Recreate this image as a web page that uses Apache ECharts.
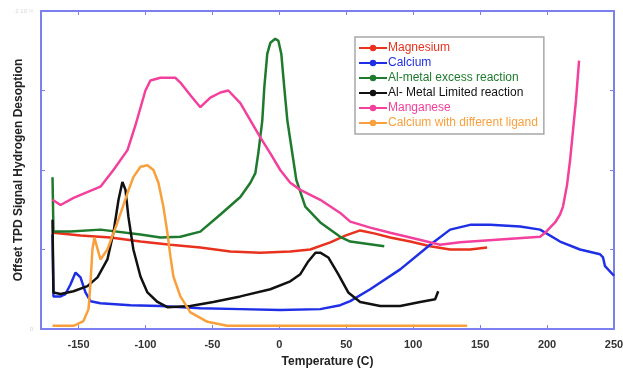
<!DOCTYPE html>
<html>
<head>
<meta charset="utf-8">
<script src="https://cdn.jsdelivr.net/npm/echarts@6/dist/echarts.min.js"></script>
<style>
  html, body { margin: 0; padding: 0; background: #fff; }
  #chart { width: 623px; height: 370px; }
</style>
</head>
<body>
<div id="chart"></div>
<script>
// temperature (C) vs offset signal
const magnesium = [
  [-168.7, 1.21], [-148.5, 1.175], [-126.1, 1.15], [-103.7, 1.1], [-81.3, 1.06],
  [-59.0, 1.025], [-36.6, 0.975], [-14.2, 0.96], [8.2, 0.975], [23.1, 1.0],
  [38.1, 1.09], [49.3, 1.175], [60.4, 1.24], [71.6, 1.2], [82.8, 1.15],
  [97.8, 1.1], [112.7, 1.04], [127.6, 1.0], [142.5, 1.0], [155.2, 1.025]
];
const calcium = [
  [-169.4, 1.19], [-168.7, 0.41], [-163.4, 0.41], [-159.7, 0.44], [-156.0, 0.56],
  [-152.2, 0.71], [-148.5, 0.65], [-144.8, 0.46], [-141.0, 0.35], [-133.6, 0.325],
  [-111.2, 0.3], [-88.8, 0.29], [-59.0, 0.26], [-29.1, 0.25], [0.7, 0.24],
  [30.6, 0.25], [45.5, 0.3], [53.0, 0.35], [67.9, 0.5], [90.3, 0.75],
  [112.7, 1.06], [127.6, 1.25], [142.5, 1.31], [157.5, 1.31], [179.9, 1.29],
  [194.8, 1.25], [209.7, 1.1], [224.6, 1.0], [239.6, 0.94], [241.8, 0.9],
  [243.3, 0.79], [250, 0.67]
];
const alExcess = [
  [-169.4, 1.91], [-168.7, 1.225], [-156.0, 1.225], [-133.6, 1.25], [-103.7, 1.19],
  [-88.8, 1.15], [-73.9, 1.16], [-59.0, 1.225], [-44.0, 1.44], [-29.1, 1.66],
  [-21.6, 1.84], [-17.9, 1.96], [-15.7, 2.21], [-12.7, 2.625], [-11.2, 3.04],
  [-9.0, 3.46], [-6.7, 3.6], [-3.0, 3.65], [-0.7, 3.625], [1.5, 3.46],
  [3.7, 3.04], [6.0, 2.625], [9.7, 2.21], [12.7, 1.875], [19.4, 1.54],
  [30.6, 1.34], [45.5, 1.16], [53.0, 1.1], [78.4, 1.04]
];
const alLimited = [
  [-169.4, 1.375], [-168.7, 0.46], [-163.4, 0.44], [-153.7, 0.475], [-143.3, 0.54],
  [-135.8, 0.65], [-128.4, 0.875], [-123.9, 1.21], [-120.1, 1.625], [-117.2, 1.85],
  [-114.9, 1.75], [-112.7, 1.41], [-109.0, 1.0], [-103.7, 0.66], [-98.5, 0.46],
  [-91.0, 0.34], [-83.6, 0.275], [-66.4, 0.29], [-49.3, 0.34], [-29.1, 0.41],
  [-6.7, 0.5], [8.2, 0.6], [15.7, 0.69], [21.6, 0.85], [27.0, 0.96],
  [30.6, 0.96], [36.6, 0.9], [44.0, 0.69], [51.5, 0.46], [60.4, 0.34],
  [75.4, 0.29], [90.3, 0.29], [105.2, 0.34], [116.4, 0.375], [118.7, 0.475]
];
const manganese = [
  [-169.4, 1.625], [-168.7, 1.65], [-163.4, 1.56], [-153.7, 1.65], [-133.6, 1.79],
  [-123.9, 2.0], [-113.4, 2.25], [-107.5, 2.56], [-100.0, 3.0], [-96.3, 3.125],
  [-88.8, 3.16], [-77.6, 3.16], [-73.9, 3.1], [-66.4, 2.94], [-59.0, 2.79],
  [-51.5, 2.91], [-44.0, 2.975], [-38.1, 3.0], [-29.1, 2.84], [-21.6, 2.625],
  [-14.2, 2.41], [-6.7, 2.21], [0.7, 2.0], [8.2, 1.84], [15.7, 1.75],
  [30.6, 1.625], [45.5, 1.46], [53.0, 1.35], [67.9, 1.275], [82.8, 1.21],
  [97.8, 1.15], [120.1, 1.06], [135.1, 1.09], [164.9, 1.125], [194.8, 1.16],
  [198.5, 1.21], [202.2, 1.275], [206.0, 1.34], [209.7, 1.44], [211.9, 1.54],
  [214.9, 1.81], [217.2, 2.125], [219.4, 2.5], [221.6, 2.875], [223.9, 3.375]
];
const calciumLigand = [
  [-169.4, 0.04], [-153.7, 0.04], [-146.3, 0.1], [-142.5, 0.25], [-141.0, 0.59],
  [-139.6, 1.0], [-138.1, 1.15], [-133.6, 0.875], [-128.4, 1.0], [-120.9, 1.34],
  [-113.4, 1.71], [-109.0, 1.91], [-103.7, 2.04], [-98.5, 2.06], [-94.0, 2.0],
  [-90.3, 1.84], [-86.6, 1.54], [-83.6, 1.21], [-81.3, 0.91], [-79.1, 0.66],
  [-73.9, 0.41], [-66.4, 0.21], [-53.7, 0.09], [-38.8, 0.04], [140.3, 0.04]
];

const xTicks = [-150, -100, -50, 0, 50, 100, 150, 200, 250];
const yTicks = [0, 1, 2, 3, 4];
const yTickLabels = ['0', '', '', '', '2 10⁻¹¹'];

const seriesList = [
  { name: 'Magnesium', data: magnesium, color: '#e8321e' },
  { name: 'Calcium', data: calcium, color: '#1f2fe6' },
  { name: 'Al-metal excess reaction', data: alExcess, color: '#1e7a2c' },
  { name: 'Al- Metal Limited reaction', data: alLimited, color: '#111111' },
  { name: 'Manganese', data: manganese, color: '#f2409c' },
  { name: 'Calcium with different ligand', data: calciumLigand, color: '#f9a03c' }
];

const frameColor = '#7c80ee';
const chart = echarts.init(document.getElementById('chart'));

const axisCommon = {
  type: 'value',
  axisLine: { show: true, onZero: false, lineStyle: { color: frameColor, width: 2 } },
  axisTick: { show: true, inside: true, length: 4, lineStyle: { color: frameColor, width: 1 } },
  splitLine: { show: false }
};

chart.setOption({
  animation: false,
  textStyle: { fontFamily: 'Liberation Sans, Arial, sans-serif' },
  grid: { left: 41, top: 11, right: 9, bottom: 41, outerBoundsMode: 'none' },
  legend: {
    orient: 'vertical',
    left: 355,
    top: 37,
    padding: [5, 6, 5, 3],
    itemGap: 3,
    itemWidth: 28,
    itemHeight: 8,
    borderColor: '#a8a8a8',
    borderWidth: 1.5,
    borderRadius: 0,
    backgroundColor: '#fff',
    textStyle: { fontSize: 12, padding: [0, 0, 0, -4] },
    data: seriesList.map(s => ({ name: s.name, textStyle: { color: s.color } }))
  },
  xAxis: [
    Object.assign({}, axisCommon, {
      min: -178, max: 250, position: 'bottom',
      axisTick: Object.assign({}, axisCommon.axisTick, { customValues: xTicks }),
      axisLabel: { customValues: xTicks, color: '#333', fontWeight: 'bold', fontSize: 11, margin: 10 },
      name: 'Temperature (C)', nameLocation: 'middle', nameGap: 27, nameMoveOverlap: false,
      nameTextStyle: { color: '#222', fontWeight: 'bold', fontSize: 12 }
    }),
    Object.assign({}, axisCommon, {
      min: -178, max: 250, position: 'top',
      axisTick: Object.assign({}, axisCommon.axisTick, { customValues: xTicks }),
      axisLabel: { show: false }
    })
  ],
  yAxis: [
    Object.assign({}, axisCommon, {
      min: 0, max: 4, interval: 1, position: 'left',
      axisLabel: {
        color: '#d6d6d6', fontSize: 6, margin: 8,
        formatter: v => yTickLabels[yTicks.indexOf(v)] || ''
      },
      name: 'Offset TPD Signal Hydrogen Desoption', nameLocation: 'middle', nameGap: 16,
      nameMoveOverlap: false,
      nameTextStyle: { color: '#222', fontWeight: 'bold', fontSize: 12 }
    }),
    Object.assign({}, axisCommon, {
      min: 0, max: 4, interval: 1, position: 'right',
      axisLabel: { show: false }
    })
  ],
  series: seriesList.map(s => ({
    name: s.name,
    type: 'line',
    data: s.data,
    symbol: 'circle',
    symbolSize: 4,
    showSymbol: false,
    clip: true,
    color: s.color,
    lineStyle: { width: 2.5, color: s.color },
    z: 2
  }))
});
</script>
</body>
</html>
